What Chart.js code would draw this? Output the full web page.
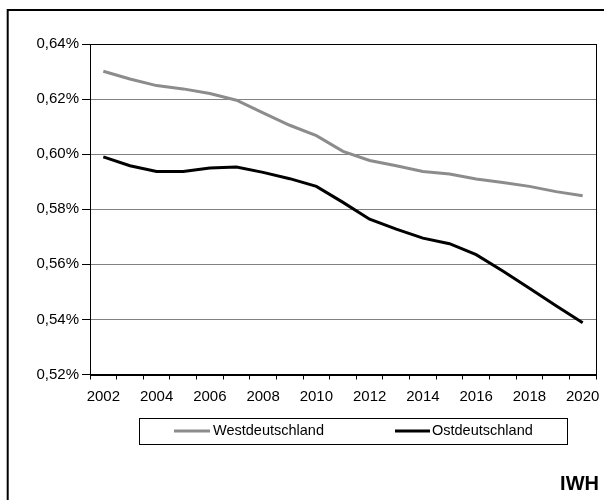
<!DOCTYPE html>
<html>
<head>
<meta charset="utf-8">
<script src="https://cdn.jsdelivr.net/npm/chart.js@4/dist/chart.umd.min.js"></script>
<style>
  html, body { margin: 0; padding: 0; background: #fff; }
  #wrap { width: 604px; height: 500px; position: relative; }
</style>
</head>
<body>
<div id="wrap"><canvas id="c" width="604" height="500"></canvas></div>
<script>
// Years on the category axis
const years = ['2002','2003','2004','2005','2006','2007','2008','2009','2010','2011',
               '2012','2013','2014','2015','2016','2017','2018','2019','2020'];

// Values in percent
const west = [0.6301, 0.6273, 0.6249, 0.6237, 0.6220, 0.6196, 0.6150, 0.6105, 0.6067, 0.6010,
              0.5977, 0.5958, 0.5937, 0.5928, 0.5910, 0.5897, 0.5883, 0.5864, 0.5849];
const ost  = [0.5990, 0.5958, 0.5937, 0.5937, 0.5950, 0.5953, 0.5934, 0.5911, 0.5883, 0.5825,
              0.5764, 0.5728, 0.5695, 0.5675, 0.5635, 0.5576, 0.5513, 0.5450, 0.5388];

const seriesNames = ['Westdeutschland', 'Ostdeutschland'];
const seriesColors = ['#8c8c8c', '#000000'];
const sourceLabel = 'IWH';

const FONT = '"Liberation Sans", Arial, sans-serif';

// Frame, plot border, boxed legend and source tag
const decor = {
  id: 'decor',
  afterDraw(chart) {
    const ctx = chart.ctx;
    const a = chart.chartArea;
    ctx.save();
    // outer frame running off the right and bottom edges
    ctx.strokeStyle = '#000';
    ctx.lineWidth = 2;
    ctx.strokeRect(7.7, 10, 800, 800);
    // plot area border
    ctx.lineWidth = 1;
    ctx.strokeRect(Math.round(a.left) + 0.5, Math.round(a.top) + 0.5,
                   Math.round(a.right - a.left), Math.round(a.bottom - a.top));
    // legend box
    ctx.strokeRect(139.5, 418.5, 428, 26);
    const items = [{x1: 174, x2: 210, tx: 213}, {x1: 395, x2: 430, tx: 432}];
    chart.data.datasets.forEach((ds, i) => {
      const it = items[i];
      ctx.strokeStyle = ds.borderColor;
      ctx.lineWidth = 3;
      ctx.beginPath();
      ctx.moveTo(it.x1, 431);
      ctx.lineTo(it.x2, 431);
      ctx.stroke();
      ctx.fillStyle = '#000';
      ctx.font = '14.5px ' + FONT;
      ctx.textBaseline = 'middle';
      ctx.textAlign = 'left';
      ctx.fillText(ds.label, it.tx, 431);
    });
    // source tag
    ctx.font = 'bold 20px ' + FONT;
    ctx.textAlign = 'right';
    ctx.textBaseline = 'alphabetic';
    ctx.fillStyle = '#000';
    ctx.fillText(sourceLabel, 599, 490);
    ctx.restore();
  }
};

new Chart(document.getElementById('c'), {
  type: 'line',
  data: {
    labels: years,
    datasets: [
      { label: seriesNames[0], data: west, borderColor: seriesColors[0], borderWidth: 3,
        pointRadius: 0, tension: 0, fill: false },
      { label: seriesNames[1], data: ost, borderColor: seriesColors[1], borderWidth: 3,
        pointRadius: 0, tension: 0, fill: false }
    ]
  },
  options: {
    responsive: false,
    animation: false,
    devicePixelRatio: 1,
    layout: { padding: { left: 0, right: 0, top: 44, bottom: 0 } },
    plugins: { legend: { display: false }, title: { display: false }, tooltip: { enabled: false } },
    scales: {
      x: {
        type: 'category',
        offset: true,
        grid: { offset: true, drawOnChartArea: false, tickLength: 5, color: '#000', tickColor: '#000' },
        border: { color: '#000', width: 1 },
        ticks: {
          autoSkip: false, maxRotation: 0, padding: 8, color: '#000',
          font: { family: FONT, size: 15 },
          callback: function (v, i) { return i % 2 === 0 ? this.getLabelForValue(v) : ''; }
        },
        afterFit(s) { s.height = 125.5; s.paddingRight = 8; s.paddingLeft = 0; }
      },
      y: {
        min: 0.52, max: 0.64,
        grid: { color: '#808080', tickColor: '#000', tickLength: 8, lineWidth: 1 },
        border: { color: '#000', width: 1 },
        ticks: {
          stepSize: 0.02, padding: 3, color: '#000',
          font: { family: FONT, size: 15 },
          callback: v => v.toFixed(2).replace('.', ',') + '%'
        },
        afterFit(s) { s.width = 90; }
      }
    }
  },
  plugins: [decor]
});
</script>
</body>
</html>
